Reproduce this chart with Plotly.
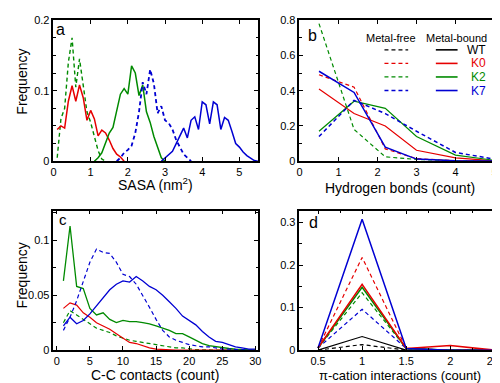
import plotly.graph_objects as go

RED = "#e60000"
GREEN = "#008a00"
BLUE = "#0000d2"
BLACK = "#000000"

# ---------------- Panel a: SASA ----------------
sasa_k0_bound_x = [0.1, 0.2, 0.3, 0.4, 0.5, 0.6, 0.7, 0.8, 0.9, 1.0, 1.1, 1.2, 1.3, 1.4, 1.5, 1.6, 1.7, 1.8, 1.9]
sasa_k0_bound_y = [0.045, 0.05, 0.047, 0.085, 0.107, 0.085, 0.108, 0.09, 0.058, 0.072, 0.06, 0.036, 0.044, 0.04, 0.03, 0.018, 0.01, 0.006, 0.0]

sasa_k2_free_x = [0.1, 0.2, 0.3, 0.4, 0.5, 0.6, 0.7, 0.8, 0.9, 1.0, 1.1, 1.2, 1.3, 1.4]
sasa_k2_free_y = [0.005, 0.06, 0.075, 0.14, 0.175, 0.105, 0.145, 0.11, 0.07, 0.055, 0.035, 0.015, 0.003, 0.0]

sasa_k2_bound_x = [1.1, 1.2, 1.3, 1.4, 1.5, 1.6, 1.7, 1.8, 1.9, 2.0, 2.1, 2.2, 2.3, 2.4, 2.5, 2.6, 2.7, 2.8, 2.9, 3.0]
sasa_k2_bound_y = [0.0, 0.005, 0.012, 0.025, 0.04, 0.048, 0.07, 0.095, 0.103, 0.095, 0.135, 0.125, 0.093, 0.108, 0.07, 0.055, 0.035, 0.02, 0.005, 0.0]

sasa_k7_free_x = [1.7, 1.8, 1.9, 2.0, 2.1, 2.2, 2.3, 2.4, 2.5, 2.6, 2.7, 2.8, 2.9, 3.0, 3.1, 3.2, 3.3, 3.4, 3.5, 3.6, 3.7]
sasa_k7_free_y = [0.0, 0.005, 0.012, 0.016, 0.022, 0.04, 0.07, 0.112, 0.095, 0.13, 0.11, 0.068, 0.078, 0.058, 0.054, 0.045, 0.03, 0.02, 0.01, 0.005, 0.0]

sasa_k7_bound_x = [2.9, 3.0, 3.1, 3.2, 3.3, 3.4, 3.5, 3.6, 3.7, 3.8, 3.9, 4.0, 4.1, 4.2, 4.3, 4.4, 4.5, 4.6, 4.7, 4.8, 4.9, 5.0, 5.1, 5.2, 5.3, 5.4, 5.5]
sasa_k7_bound_y = [0.0, 0.005, 0.01, 0.014, 0.025, 0.035, 0.047, 0.033, 0.058, 0.063, 0.045, 0.084, 0.08, 0.053, 0.084, 0.08, 0.045, 0.062, 0.058, 0.042, 0.025, 0.02, 0.013, 0.008, 0.004, 0.001, 0.0]

# ---------------- Panel b: Hydrogen bonds ----------------
hb_x = [0.5, 1.4, 2.2, 3, 4, 5, 6]
hb_k0_free = [0.49, 0.42, 0.07, 0.015, 0.003, 0.0, 0.0]
hb_k2_free = [0.78, 0.18, 0.025, 0.01, 0.003, 0.0, 0.0]
hb_k7_free = [0.14, 0.345, 0.27, 0.17, 0.05, 0.012, 0.01]
hb_k0_bound = [0.41, 0.27, 0.2, 0.062, 0.019, 0.003, 0.0]
hb_k2_bound = [0.17, 0.34, 0.3, 0.14, 0.035, 0.005, 0.0]
hb_k7_bound = [0.51, 0.39, 0.08, 0.012, 0.003, 0.0, 0.0]

# ---------------- Panel c: C-C contacts ----------------
cc_x = list(range(1, 31))
cc_k0_bound = [0.038, 0.043, 0.041, 0.034, 0.03, 0.025, 0.022, 0.019, 0.015, 0.011, 0.007, 0.006, 0.004, 0.002, 0.001, 0.0005, 0, 0, 0, 0, 0, 0, 0, 0, 0, 0, 0, 0, 0, 0]
cc_k2_free = [0.025, 0.036, 0.032, 0.028, 0.024, 0.02, 0.018, 0.016, 0.013, 0.011, 0.009, 0.008, 0.007, 0.006, 0.005, 0.004, 0.003, 0.002, 0.002, 0.001, 0.0005, 0.0003, 0, 0, 0, 0, 0, 0, 0, 0]
cc_k2_bound = [0.063, 0.113, 0.058, 0.056, 0.038, 0.032, 0.034, 0.028, 0.025, 0.027, 0.026, 0.026, 0.025, 0.024, 0.022, 0.02, 0.018, 0.015, 0.015, 0.012, 0.009, 0.006, 0.004, 0.003, 0.002, 0.0015, 0.001, 0.0005, 0.0003, 0.0]
cc_k7_free = [0.018, 0.03, 0.045, 0.062, 0.08, 0.092, 0.089, 0.088, 0.08, 0.069, 0.067, 0.06, 0.05, 0.039, 0.028, 0.018, 0.012, 0.009, 0.007, 0.005, 0.004, 0.003, 0.003, 0.002, 0.001, 0.001, 0.0005, 0, 0, 0]
cc_k7_bound = [0.022, 0.03, 0.024, 0.027, 0.033, 0.04, 0.047, 0.055, 0.06, 0.063, 0.062, 0.067, 0.063, 0.058, 0.055, 0.05, 0.044, 0.038, 0.031, 0.027, 0.023, 0.017, 0.012, 0.008, 0.007, 0.005, 0.003, 0.002, 0.001, 0.001]

# ---------------- Panel d: pi-cation ----------------
pc_x = [0.5, 1, 1.5, 2, 2.5]
pc_wt_free = [0.0, 0.013, 0.0, 0.0, 0.0]
pc_wt_bound = [0.0, 0.032, 0.0, 0.0, 0.0]
pc_k0_free = [0.005, 0.218, 0.004, 0.0, 0.0]
pc_k0_bound = [0.005, 0.155, 0.004, 0.011, 0.0]
pc_k2_free = [0.005, 0.135, 0.004, 0.0, 0.0]
pc_k2_bound = [0.005, 0.148, 0.004, 0.0, 0.0]
pc_k7_free = [0.005, 0.096, 0.004, 0.0, 0.0]
pc_k7_bound = [0.005, 0.308, 0.004, 0.0, 0.0]

# legend entries
legend_labels = ["WT", "K0", "K2", "K7"]
legend_colors = [BLACK, RED, GREEN, BLUE]

DASH = "4px,3px"

fig = go.Figure()


def add(x, y, color, dash, ax, width=1.5):
    fig.add_trace(go.Scatter(
        x=x, y=y, mode="lines",
        line=dict(color=color, dash=(DASH if dash else "solid"), width=width),
        xaxis="x" + ("" if ax == 1 else str(ax)),
        yaxis="y" + ("" if ax == 1 else str(ax)),
        showlegend=False, hoverinfo="skip"))


# panel a
add(sasa_k2_free_x, sasa_k2_free_y, GREEN, True, 1, 1.4)
add(sasa_k0_bound_x, sasa_k0_bound_y, RED, False, 1)
add(sasa_k2_bound_x, sasa_k2_bound_y, GREEN, False, 1)
add(sasa_k7_free_x, sasa_k7_free_y, BLUE, True, 1, 1.8)
add(sasa_k7_bound_x, sasa_k7_bound_y, BLUE, False, 1)

# panel b
add(hb_x, hb_k0_free, RED, True, 2, 1.2)
add(hb_x, hb_k2_free, GREEN, True, 2, 1.2)
add(hb_x, hb_k0_bound, RED, False, 2, 1.2)
add(hb_x, hb_k2_bound, GREEN, False, 2, 1.2)
add(hb_x, hb_k7_free, BLUE, True, 2, 1.5)
add(hb_x, hb_k7_bound, BLUE, False, 2, 1.5)

# panel c
add(cc_x, cc_k2_free, GREEN, True, 3, 1.2)
add(cc_x, cc_k0_bound, RED, False, 3, 1.2)
add(cc_x, cc_k2_bound, GREEN, False, 3, 1.3)
add(cc_x, cc_k7_free, BLUE, True, 3, 1.2)
add(cc_x, cc_k7_bound, BLUE, False, 3, 1.3)

# panel d
add(pc_x, pc_wt_free, BLACK, True, 4, 1.2)
add(pc_x, pc_wt_bound, BLACK, False, 4, 1.2)
add(pc_x, pc_k7_free, BLUE, True, 4, 1.2)
add(pc_x, pc_k2_free, GREEN, True, 4, 1.2)
add(pc_x, pc_k2_bound, GREEN, False, 4, 1.5)
add(pc_x, pc_k0_bound, RED, False, 4, 1.5)
add(pc_x, pc_k0_free, RED, True, 4, 1.2)
add(pc_x, pc_k7_bound, BLUE, False, 4, 1.5)

FONT = "Liberation Sans, Arial, sans-serif"


def axis(domain, rng, dtick, minor_dtick, anchor, tick0=0):
    d = dict(domain=domain, range=rng, dtick=dtick, tick0=tick0,
             ticks="inside", ticklen=4, tickwidth=1, tickcolor="black",
             showline=True, linecolor="black", linewidth=1.6, mirror="allticks",
             showgrid=False, zeroline=False, anchor=anchor,
             ticklabeloverflow="allow",
             tickfont=dict(family=FONT, size=11, color="black"))
    if minor_dtick:
        d["minor"] = dict(ticks="inside", dtick=minor_dtick, ticklen=2.5,
                          tickcolor="black", showgrid=False)
    return d


W, H = 500, 383
xa = [43 / W, 250 / W]
xb = [292 / W, 1.0]
ytop = [1 - 152 / H, 1 - 6 / H]
ybot = [1 - 347 / H, 1 - 203 / H]

layout = dict(
    width=W, height=H,
    margin=dict(l=0, r=0, t=0, b=0),
    paper_bgcolor="white", plot_bgcolor="white",
    font=dict(family=FONT, color="black"),
    xaxis=axis(xa, [0, 5.5], 1, None, "y"),
    yaxis=axis(ytop, [0, 0.2004], 0.1, 0.025, "x"),
    xaxis2=axis(xb, [0, 5.27], 1, None, "y2"),
    yaxis2=axis(ytop, [0, 0.8015], 0.2, 0.1, "x2"),
    xaxis3=axis(xa, [-0.5, 30.4], 5, None, "y3"),
    yaxis3=axis(ybot, [0, 0.127], 0.05, 0.025, "x3"),
    xaxis4=axis(xb, [0.29, 2.62], 0.5, 0.25, "y4", tick0=0.5),
    yaxis4=axis(ybot, [0, 0.328], 0.1, 0.05, "x4"),
)
fig.update_layout(**layout)

ann = []


def text(x, y, t, size, color="black", xanchor="center", yanchor="middle", angle=0):
    ann.append(dict(x=x / W, y=1 - y / H, xref="paper", yref="paper", text=t,
                    showarrow=False, xanchor=xanchor, yanchor=yanchor, textangle=angle,
                    borderpad=0,
                    font=dict(family=FONT, size=size, color=color)))


# axis titles
text(146, 176, "SASA (nm<sup>2</sup>)", 14)
text(394, 180, "Hydrogen bonds (count)", 14)
text(146, 373, "C-C contacts (count)", 14)
text(394, 373, "π-cation interactions (count)", 13)
text(11, 70, "Frequency", 14, angle=-90)
text(11, 270, "Frequency", 14, angle=-90)

# panel letters
text(50, 16, "a", 16)
text(305, 22, "b", 16)
text(53, 212, "c", 15)
text(306, 215, "d", 16)

# legend in panel b
text(385, 25, "Metal-free", 11)
text(451, 25, "Metal-bound", 11)
rows_y = [37, 51, 65, 79]
shapes = []
for ry, lab, col in zip(rows_y, legend_labels, legend_colors):
    shapes.append(dict(type="line", xref="paper", yref="paper",
                       x0=378 / W, x1=402 / W, y0=1 - ry / H, y1=1 - ry / H,
                       line=dict(color=col, width=1.3, dash=DASH)))
    shapes.append(dict(type="line", xref="paper", yref="paper",
                       x0=430 / W, x1=452 / W, y0=1 - ry / H, y1=1 - ry / H,
                       line=dict(color=col, width=1.6)))
    text(482, ry, lab, 12, color=col, xanchor="right")

fig.update_layout(annotations=ann, shapes=shapes)
fig.write_html("out.html")
